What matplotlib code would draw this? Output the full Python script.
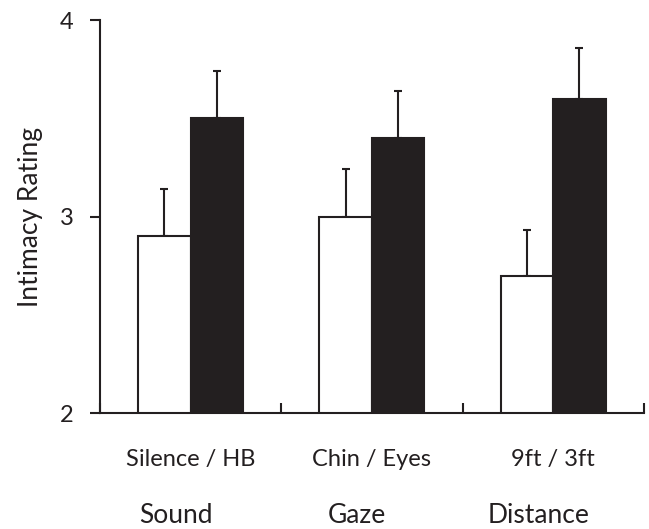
import matplotlib
matplotlib.use("Agg")
import matplotlib.pyplot as plt
import numpy as np

plt.rcParams['font.family'] = ['Lato', 'DejaVu Sans']

# data
pairs = ["Silence / HB", "Chin / Eyes", "9ft / 3ft"]
groups = ["Sound", "Gaze", "Distance"]
first_vals = [2.9, 3.0, 2.7]      # white bars
second_vals = [3.5, 3.4, 3.6]     # black bars
first_err = [0.24, 0.24, 0.23]
second_err = [0.24, 0.24, 0.26]

ink = "#231f20"
x = np.arange(len(pairs)) + 0.5
w = 0.29

fig = plt.figure(figsize=(6.49, 5.29), dpi=100)
ax = fig.add_axes([0.154, 0.219, 0.838, 0.743])

ax.bar(x - w / 2, first_vals, w, color="white", edgecolor=ink, linewidth=1.5, zorder=2)
ax.bar(x + w / 2, second_vals, w, color=ink, edgecolor=ink, linewidth=1.5, zorder=2)
# upper-only error bars
ax.errorbar(x - w / 2, first_vals, yerr=[np.zeros(3), first_err], fmt="none",
            ecolor=ink, elinewidth=1.5, capsize=3, capthick=1.5, zorder=1)
ax.errorbar(x + w / 2, second_vals, yerr=[np.zeros(3), second_err], fmt="none",
            ecolor=ink, elinewidth=1.5, capsize=3, capthick=1.5, zorder=1)

ax.set_ylim(2, 4)
ax.set_xlim(0, 3)
ax.set_yticks([2, 3, 4])
ax.set_yticklabels(["2", "3", "4"])
ax.tick_params(axis="y", direction="out", length=7, width=1.5, color=ink,
               labelsize=17, pad=12, labelcolor=ink)

# boundary ticks pointing up, labels at group centres
ax.set_xticks([0, 1, 2, 3])
ax.set_xticklabels([])
ax.tick_params(axis="x", which="major", direction="in", length=7, width=1.5, color=ink)
ax.set_xticks(x, minor=True)
ax.set_xticklabels(pairs, minor=True)
ax.tick_params(axis="x", which="minor", length=0, labelsize=17, pad=26, labelcolor=ink)

for xi, g in zip(x - 0.08, groups):
    ax.text(xi, -0.26, g, transform=ax.get_xaxis_transform(), ha="center", va="center",
            fontsize=19, color=ink)

ax.set_ylabel("Intimacy Rating", fontsize=19, color=ink, labelpad=12)

for s in ["top", "right"]:
    ax.spines[s].set_visible(False)
for s in ["left", "bottom"]:
    ax.spines[s].set_linewidth(1.5)
    ax.spines[s].set_color(ink)

fig.savefig("out.png", dpi=100)
